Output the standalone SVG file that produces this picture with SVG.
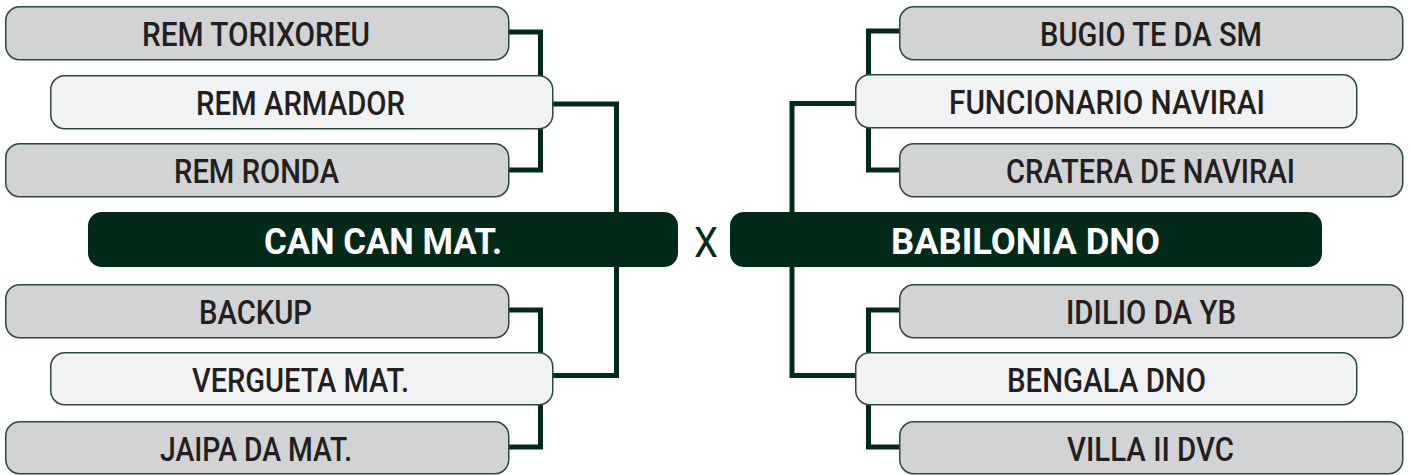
<svg xmlns="http://www.w3.org/2000/svg" width="1410" height="475" viewBox="0 0 1410 475">
<style>
.bg{fill:#ffffff}
.outer{fill:#d1d3d4;stroke:#2b4a3a;stroke-width:1.5}
.mid{fill:#f1f2f3;stroke:#2b4a3a;stroke-width:1.5}
.main{fill:#032a19}
.lbl{font-family:Roboto,"Liberation Sans",sans-serif;font-weight:500;font-size:34px;fill:#231f20;text-anchor:middle}
.mainlbl{font-family:Roboto,"Liberation Sans",sans-serif;font-weight:700;font-size:37px;fill:#ffffff;text-anchor:middle}
.vs{font-family:Roboto,"Liberation Sans",sans-serif;font-weight:400;font-size:43px;fill:#032a19;text-anchor:middle}
.conn{fill:none;stroke:#032a19;stroke-width:5;stroke-linejoin:miter}
</style>
<rect class="bg" x="0" y="0" width="1410" height="475"/>
<g id="connectors">
<path class="conn" d="M509 32 H540.5 V170 H509"/>
<path class="conn" d="M553 104 H616.5 V375.5 H553"/>
<path class="conn" d="M509 310 H540.5 V447 H509"/>
<path class="conn" d="M899 31 H868.5 V170 H899"/>
<path class="conn" d="M855 103.5 H792 V375.5 H855"/>
<path class="conn" d="M899 310 H868.5 V447 H899"/>
</g>
<g id="rem-torixoreu"><rect class="outer" x="5.75" y="6.75" width="503" height="53" rx="14"/><text class="lbl" x="256" y="46" textLength="228" lengthAdjust="spacingAndGlyphs">REM TORIXOREU</text></g>
<g id="rem-armador"><rect class="mid" x="50.75" y="75.75" width="502" height="53" rx="14"/><text class="lbl" x="300.5" y="115" textLength="209" lengthAdjust="spacingAndGlyphs">REM ARMADOR</text></g>
<g id="rem-ronda"><rect class="outer" x="5.75" y="143.75" width="503" height="53" rx="14"/><text class="lbl" x="256.5" y="183" textLength="165" lengthAdjust="spacingAndGlyphs">REM RONDA</text></g>
<g id="can-can-mat"><rect class="main" x="88" y="212" width="590" height="55" rx="14"/><text class="mainlbl" x="383" y="254" textLength="238" lengthAdjust="spacingAndGlyphs">CAN CAN MAT.</text></g>
<g id="backup"><rect class="outer" x="5.75" y="284.75" width="503" height="53" rx="14"/><text class="lbl" x="255.5" y="324" textLength="113" lengthAdjust="spacingAndGlyphs">BACKUP</text></g>
<g id="vergueta-mat"><rect class="mid" x="50.75" y="352.75" width="502" height="52" rx="14"/><text class="lbl" x="300.5" y="392" textLength="217" lengthAdjust="spacingAndGlyphs">VERGUETA MAT.</text></g>
<g id="jaipa-da-mat"><rect class="outer" x="5.75" y="421.75" width="503" height="52" rx="14"/><text class="lbl" x="256" y="461" textLength="192" lengthAdjust="spacingAndGlyphs">JAIPA DA MAT.</text></g>
<text id="vs" class="vs" x="706" y="257" textLength="24" lengthAdjust="spacingAndGlyphs">X</text>
<g id="babilonia-dno"><rect class="main" x="730" y="212" width="592" height="55" rx="14"/><text class="mainlbl" x="1025.5" y="254" textLength="269" lengthAdjust="spacingAndGlyphs">BABILONIA DNO</text></g>
<g id="bugio-te-da-sm"><rect class="outer" x="899.75" y="6.75" width="503" height="53" rx="14"/><text class="lbl" x="1151" y="46" textLength="222" lengthAdjust="spacingAndGlyphs">BUGIO TE DA SM</text></g>
<g id="funcionario-navirai"><rect class="mid" x="855.75" y="74.75" width="501" height="53" rx="14"/><text class="lbl" x="1107" y="114" textLength="316" lengthAdjust="spacingAndGlyphs">FUNCIONARIO NAVIRAI</text></g>
<g id="cratera-de-navirai"><rect class="outer" x="899.75" y="143.75" width="503" height="53" rx="14"/><text class="lbl" x="1150.5" y="183" textLength="289" lengthAdjust="spacingAndGlyphs">CRATERA DE NAVIRAI</text></g>
<g id="idilio-da-yb"><rect class="outer" x="899.75" y="284.75" width="503" height="53" rx="14"/><text class="lbl" x="1151" y="324" textLength="170" lengthAdjust="spacingAndGlyphs">IDILIO DA YB</text></g>
<g id="bengala-dno"><rect class="mid" x="855.75" y="352.75" width="501" height="52" rx="14"/><text class="lbl" x="1106.5" y="392" textLength="199" lengthAdjust="spacingAndGlyphs">BENGALA DNO</text></g>
<g id="villa-ii-dvc"><rect class="outer" x="899.75" y="421.75" width="503" height="52" rx="14"/><text class="lbl" x="1150.5" y="461" textLength="167" lengthAdjust="spacingAndGlyphs">VILLA II DVC</text></g>
</svg>
